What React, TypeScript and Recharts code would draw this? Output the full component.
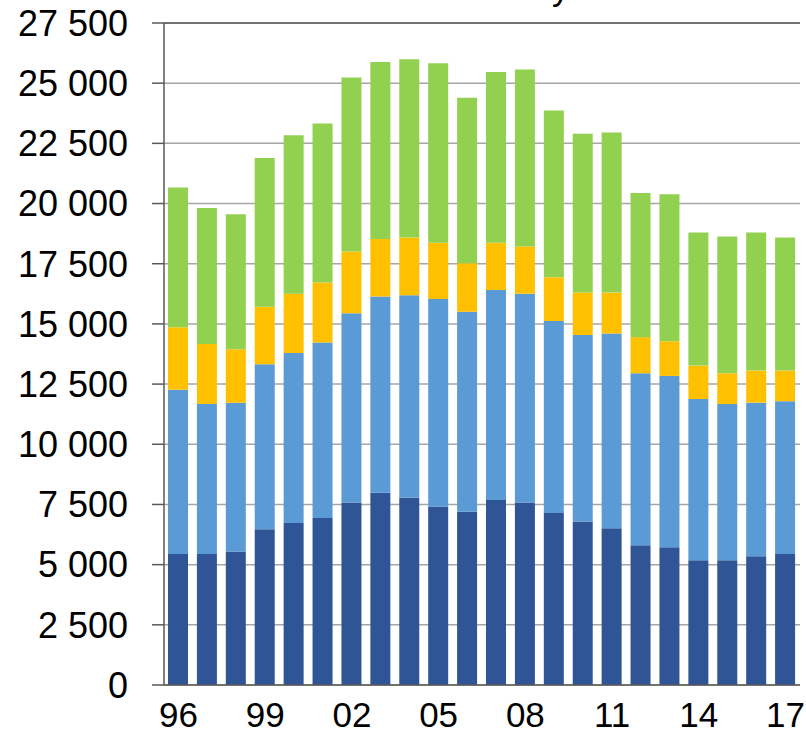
import React from "react";
import {
  Bar,
  BarChart,
  CartesianGrid,
  ReferenceLine,
  XAxis,
  YAxis,
} from "recharts";

const years = [
  "96", "97", "98", "99", "00", "01", "02", "03", "04", "05", "06",
  "07", "08", "09", "10", "11", "12", "13", "14", "15", "16", "17",
];

// stacked segments, bottom to top
const darkBlue = [
  5440, 5440, 5550, 6470, 6730, 6940, 7580, 7990, 7780, 7410, 7200,
  7680, 7580, 7140, 6790, 6510, 5810, 5720, 5180, 5180, 5350, 5440,
];
const lightBlue = [
  6820, 6230, 6180, 6850, 7060, 7290, 7860, 8150, 8410, 8620, 8300,
  8730, 8670, 7980, 7750, 8090, 7140, 7120, 6700, 6490, 6380, 6350,
];
const gold = [
  2600, 2500, 2220, 2390, 2460, 2490, 2570, 2390, 2400, 2340, 2020,
  1960, 1970, 1820, 1760, 1700, 1500, 1440, 1390, 1280, 1330, 1270,
];
const green = [
  5810, 5640, 5610, 6180, 6590, 6610, 7230, 7350, 7400, 7460, 6870,
  7090, 7350, 6920, 6600, 6650, 5990, 6110, 5530, 5680, 5740, 5530,
];

const yTicks = [
  0, 2500, 5000, 7500, 10000, 12500, 15000, 17500, 20000, 22500, 25000, 27500,
];

const data = years.map((year, i) => ({
  year,
  a: darkBlue[i],
  b: lightBlue[i],
  c: gold[i],
  d: green[i],
}));

const FONT = "'Liberation Sans', Arial, sans-serif";
const AXIS = "#595959";

const fmt = (v: number) =>
  v >= 1000 ? `${Math.floor(v / 1000)} ${String(v % 1000).padStart(3, "0")}` : String(v);

export default function App(): React.ReactElement {
  return (
    <div style={{ position: "absolute", left: 0, top: 0, width: 806, height: 731 }}>
      <BarChart
        width={806}
        height={731}
        data={data}
        margin={{ top: 23, right: 6, bottom: 0, left: 0 }}
        barSize={20}
      >
        <CartesianGrid vertical={false} stroke="#a6a6a6" strokeWidth={1.5} />
        <XAxis
          dataKey="year"
          interval={2}
          height={46}
          tickLine={false}
          tickSize={0}
          tickMargin={17}
          axisLine={{ stroke: AXIS, strokeWidth: 1.5 }}
          tick={{ fill: "#000", fontSize: 35, fontFamily: FONT }}
        />
        <YAxis
          type="number"
          domain={[0, 27500]}
          ticks={yTicks}
          interval={0}
          width={164}
          tickSize={12}
          tickMargin={24}
          tickFormatter={fmt}
          tickLine={{ stroke: AXIS, strokeWidth: 1.5 }}
          axisLine={{ stroke: AXIS, strokeWidth: 1.5 }}
          tick={{ fill: "#000", fontSize: 36, fontFamily: FONT }}
        />
        <YAxis
          yAxisId="frame"
          orientation="right"
          width={0}
          tick={false}
          tickLine={false}
          axisLine={{ stroke: AXIS, strokeWidth: 1.5 }}
        />
        <ReferenceLine y={27500} stroke={AXIS} strokeWidth={1.5} />
        <Bar dataKey="a" stackId="s" fill="#2f5597" isAnimationActive={false} />
        <Bar dataKey="b" stackId="s" fill="#5b9bd5" isAnimationActive={false} />
        <Bar dataKey="c" stackId="s" fill="#ffc000" isAnimationActive={false} />
        <Bar dataKey="d" stackId="s" fill="#92d050" isAnimationActive={false} />
      </BarChart>
      <svg
        width={806}
        height={20}
        style={{ position: "absolute", left: 0, top: 0, pointerEvents: "none" }}
      >
        <text x={552} y={0} fontSize={35} fontFamily={FONT} fill="#000">
          y
        </text>
      </svg>
    </div>
  );
}
